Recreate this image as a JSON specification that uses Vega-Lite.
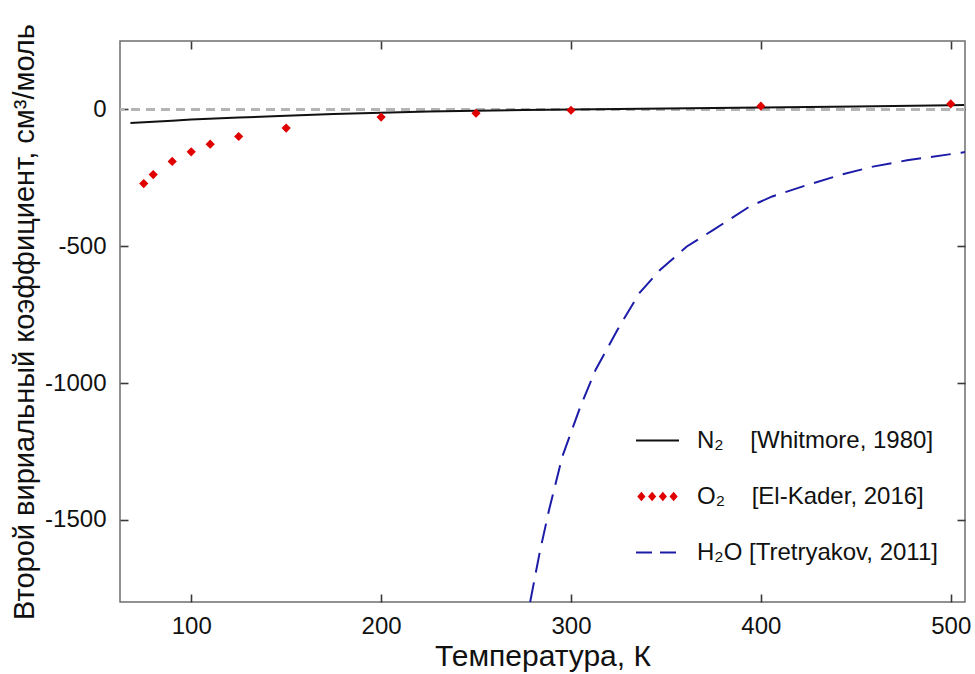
{
  "$schema": "https://vega.github.io/schema/vega-lite/v6.json",
  "width": 845,
  "height": 561,
  "autosize": {"type": "none"},
  "padding": {"left": 120, "top": 41, "right": 10, "bottom": 72},
  "background": "white",
  "config": {
    "view": {"stroke": "#6e6e6e", "strokeWidth": 1.5},
    "font": "Liberation Sans",
    "axis": {
      "domain": false,
      "grid": false,
      "zindex": 1,
      "labelFont": "Liberation Sans",
      "labelFontSize": 24,
      "labelColor": "#111111",
      "titleFont": "Liberation Sans",
      "titleFontWeight": "normal",
      "titleColor": "#111111"
    }
  },
  "data": {
    "values": [
      {"series": "N₂\u00a0\u00a0\u00a0\u00a0[Whitmore, 1980]", "T": 68, "B": -50},
      {"series": "N₂\u00a0\u00a0\u00a0\u00a0[Whitmore, 1980]", "T": 80, "B": -45},
      {"series": "N₂\u00a0\u00a0\u00a0\u00a0[Whitmore, 1980]", "T": 90, "B": -41},
      {"series": "N₂\u00a0\u00a0\u00a0\u00a0[Whitmore, 1980]", "T": 100, "B": -37},
      {"series": "N₂\u00a0\u00a0\u00a0\u00a0[Whitmore, 1980]", "T": 125, "B": -30},
      {"series": "N₂\u00a0\u00a0\u00a0\u00a0[Whitmore, 1980]", "T": 150, "B": -23},
      {"series": "N₂\u00a0\u00a0\u00a0\u00a0[Whitmore, 1980]", "T": 175, "B": -17},
      {"series": "N₂\u00a0\u00a0\u00a0\u00a0[Whitmore, 1980]", "T": 200, "B": -12},
      {"series": "N₂\u00a0\u00a0\u00a0\u00a0[Whitmore, 1980]", "T": 225, "B": -8},
      {"series": "N₂\u00a0\u00a0\u00a0\u00a0[Whitmore, 1980]", "T": 250, "B": -5},
      {"series": "N₂\u00a0\u00a0\u00a0\u00a0[Whitmore, 1980]", "T": 275, "B": -2},
      {"series": "N₂\u00a0\u00a0\u00a0\u00a0[Whitmore, 1980]", "T": 300, "B": 0},
      {"series": "N₂\u00a0\u00a0\u00a0\u00a0[Whitmore, 1980]", "T": 350, "B": 3},
      {"series": "N₂\u00a0\u00a0\u00a0\u00a0[Whitmore, 1980]", "T": 400, "B": 7},
      {"series": "N₂\u00a0\u00a0\u00a0\u00a0[Whitmore, 1980]", "T": 450, "B": 11},
      {"series": "N₂\u00a0\u00a0\u00a0\u00a0[Whitmore, 1980]", "T": 500, "B": 15},
      {"series": "N₂\u00a0\u00a0\u00a0\u00a0[Whitmore, 1980]", "T": 507, "B": 16},
      {"series": "O₂\u00a0\u00a0\u00a0\u00a0[El-Kader, 2016]", "T": 75, "B": -271},
      {"series": "O₂\u00a0\u00a0\u00a0\u00a0[El-Kader, 2016]", "T": 80, "B": -238},
      {"series": "O₂\u00a0\u00a0\u00a0\u00a0[El-Kader, 2016]", "T": 90, "B": -190},
      {"series": "O₂\u00a0\u00a0\u00a0\u00a0[El-Kader, 2016]", "T": 100, "B": -155},
      {"series": "O₂\u00a0\u00a0\u00a0\u00a0[El-Kader, 2016]", "T": 110, "B": -127},
      {"series": "O₂\u00a0\u00a0\u00a0\u00a0[El-Kader, 2016]", "T": 125, "B": -99},
      {"series": "O₂\u00a0\u00a0\u00a0\u00a0[El-Kader, 2016]", "T": 150, "B": -68},
      {"series": "O₂\u00a0\u00a0\u00a0\u00a0[El-Kader, 2016]", "T": 200, "B": -28},
      {"series": "O₂\u00a0\u00a0\u00a0\u00a0[El-Kader, 2016]", "T": 250, "B": -14},
      {"series": "O₂\u00a0\u00a0\u00a0\u00a0[El-Kader, 2016]", "T": 300, "B": -3},
      {"series": "O₂\u00a0\u00a0\u00a0\u00a0[El-Kader, 2016]", "T": 400, "B": 12},
      {"series": "O₂\u00a0\u00a0\u00a0\u00a0[El-Kader, 2016]", "T": 500, "B": 20},
      {"series": "H₂O [Tretryakov, 2011]", "T": 278.5, "B": -1800},
      {"series": "H₂O [Tretryakov, 2011]", "T": 283.5, "B": -1620},
      {"series": "H₂O [Tretryakov, 2011]", "T": 288.5, "B": -1462},
      {"series": "H₂O [Tretryakov, 2011]", "T": 295.5, "B": -1267},
      {"series": "H₂O [Tretryakov, 2011]", "T": 305, "B": -1085},
      {"series": "H₂O [Tretryakov, 2011]", "T": 313, "B": -951},
      {"series": "H₂O [Tretryakov, 2011]", "T": 324.5, "B": -805},
      {"series": "H₂O [Tretryakov, 2011]", "T": 336, "B": -671},
      {"series": "H₂O [Tretryakov, 2011]", "T": 347, "B": -586},
      {"series": "H₂O [Tretryakov, 2011]", "T": 361, "B": -501},
      {"series": "H₂O [Tretryakov, 2011]", "T": 375, "B": -440},
      {"series": "H₂O [Tretryakov, 2011]", "T": 394, "B": -355},
      {"series": "H₂O [Tretryakov, 2011]", "T": 406, "B": -318},
      {"series": "H₂O [Tretryakov, 2011]", "T": 424.5, "B": -276},
      {"series": "H₂O [Tretryakov, 2011]", "T": 442, "B": -239},
      {"series": "H₂O [Tretryakov, 2011]", "T": 459, "B": -209},
      {"series": "H₂O [Tretryakov, 2011]", "T": 477, "B": -186},
      {"series": "H₂O [Tretryakov, 2011]", "T": 505.5, "B": -158},
      {"series": "H₂O [Tretryakov, 2011]", "T": 507.5, "B": -156}
    ]
  },
  "resolve": {"axis": {"x": "independent", "y": "independent"}},
  "layer": [
    {
      "mark": {"type": "rule", "color": "#b4b4b4", "strokeWidth": 1.5, "strokeDash": [9, 6]},
      "encoding": {
        "y": {"datum": 0, "type": "quantitative", "scale": {"domain": [-1800, 250]}, "axis": null}
      }
    },
    {
      "transform": [{"filter": "indexof(datum.series, 'N') === 0"}],
      "mark": {"type": "line", "strokeWidth": 2},
      "encoding": {
        "x": {"field": "T", "type": "quantitative", "scale": {"domain": [62.5, 507.5], "nice": false, "zero": false},
              "axis": {"orient": "bottom", "offset": -8, "ticks": true, "tickSize": 8, "tickColor": "#3a3a3a", "tickWidth": 1.6, "values": [100, 200, 300, 400, 500], "labelExpr": "'' + datum.value", "title": "Температура, К", "titleFontSize": 30, "labelPadding": 12, "titlePadding": 3}},
        "y": {"field": "B", "type": "quantitative", "scale": {"domain": [-1800, 250], "nice": false, "zero": false},
              "axis": {"orient": "left", "offset": -8, "ticks": true, "tickSize": 8, "tickColor": "#3a3a3a", "tickWidth": 1.6, "values": [0, -500, -1000, -1500], "labelExpr": "'' + datum.value", "title": "Второй вириальный коэффициент, см³/моль", "titleFontSize": 29, "labelPadding": 14, "titlePadding": 5}},
        "color": {"field": "series", "type": "nominal",
                  "scale": {"domain": ["N₂\u00a0\u00a0\u00a0\u00a0[Whitmore, 1980]", "O₂\u00a0\u00a0\u00a0\u00a0[El-Kader, 2016]", "H₂O [Tretryakov, 2011]"], "range": ["#111111", "#e00000", "#1c1ca8"]},
                  "legend": {
                    "title": null,
                    "orient": "none",
                    "legendX": 515,
                    "legendY": 377,
                    "padding": 0,
                    "symbolType": "stroke",
                    "symbolSize": 1849,
                    "symbolStrokeWidth": 2,
                    "labelFont": "Liberation Sans",
                    "labelFontSize": 24,
                    "labelColor": "#111111",
                    "labelOffset": 17,
                    "labelLimit": 400,
                    "rowPadding": 21,
                    "encode": {
                      "symbols": {
                        "update": {
                          "shape": {"signal": "indexof(datum.value, 'O') === 0 ? 'M-0.94,0L-0.75,-0.22L-0.56,0L-0.75,0.22Z M-0.44,0L-0.25,-0.22L-0.06,0L-0.25,0.22Z M0.06,0L0.25,-0.22L0.44,0L0.25,0.22Z M0.56,0L0.75,-0.22L0.94,0L0.75,0.22Z' : 'stroke'"},
                          "fill": {"signal": "indexof(datum.value, 'O') === 0 ? '#e00000' : 'transparent'"},
                          "strokeOpacity": {"signal": "indexof(datum.value, 'O') === 0 ? 0 : 1"},
                          "strokeDash": {"signal": "indexof(datum.value, 'H') === 0 ? [16, 8] : [1, 0]"}
                        }
                      }
                    }
                  }}
      }
    },
    {
      "transform": [{"filter": "indexof(datum.series, 'H') === 0"}],
      "mark": {"type": "line", "strokeWidth": 2, "strokeDash": [20, 10]},
      "encoding": {
        "x": {"field": "T", "type": "quantitative", "axis": {"orient": "top", "offset": -8, "ticks": true, "tickSize": 8, "tickColor": "#3a3a3a", "tickWidth": 1.6, "values": [100, 200, 300, 400, 500], "labels": false, "title": null}},
        "y": {"field": "B", "type": "quantitative", "axis": {"orient": "right", "offset": -8, "ticks": true, "tickSize": 8, "tickColor": "#3a3a3a", "tickWidth": 1.6, "values": [0, -500, -1000, -1500], "labels": false, "title": null}},
        "color": {"field": "series", "type": "nominal"}
      }
    },
    {
      "transform": [{"filter": "indexof(datum.series, 'O') === 0"}],
      "mark": {"type": "point", "shape": "diamond", "filled": true, "size": 85, "opacity": 1},
      "encoding": {
        "x": {"field": "T", "type": "quantitative", "axis": null},
        "y": {"field": "B", "type": "quantitative", "axis": null},
        "color": {"field": "series", "type": "nominal"}
      }
    }
  ]
}
